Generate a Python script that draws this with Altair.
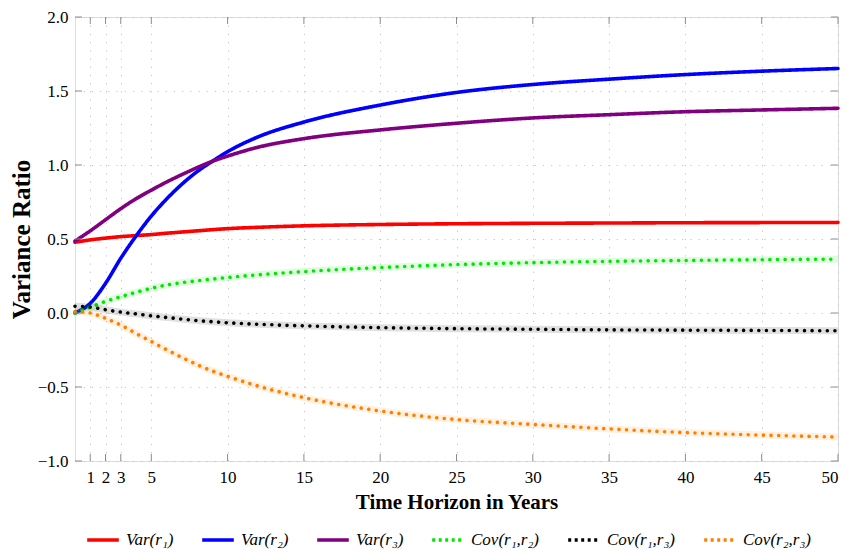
import altair as alt
import pandas as pd

# ---------------- data ----------------
horizon = [0, 1, 2, 3, 4, 5, 6, 7, 8, 9, 10, 12, 15, 20, 25, 30, 35, 40, 45, 50]

var_r1 = [0.478, 0.494, 0.506, 0.516, 0.523, 0.530, 0.539, 0.547, 0.555, 0.563,
          0.570, 0.579, 0.589, 0.598, 0.603, 0.606, 0.608, 0.610, 0.611, 0.612]
var_r2 = [0.000, 0.065, 0.200, 0.370, 0.520, 0.655, 0.770, 0.870, 0.955, 1.025,
          1.090, 1.190, 1.290, 1.405, 1.490, 1.544, 1.580, 1.611, 1.634, 1.652]
var_r3 = [0.486, 0.555, 0.630, 0.705, 0.772, 0.830, 0.885, 0.935, 0.982, 1.025,
          1.060, 1.120, 1.178, 1.237, 1.282, 1.318, 1.340, 1.360, 1.372, 1.383]
cov_r1r2 = [0.000, 0.040, 0.078, 0.110, 0.140, 0.167, 0.189, 0.205, 0.218, 0.229,
            0.240, 0.258, 0.280, 0.307, 0.327, 0.340, 0.349, 0.355, 0.360, 0.364]
cov_r1r3 = [0.046, 0.040, 0.022, 0.006, -0.006, -0.019, -0.030, -0.041, -0.051, -0.059,
            -0.066, -0.076, -0.087, -0.099, -0.106, -0.110, -0.114, -0.116, -0.118, -0.120]
cov_r2r3 = [0.010, 0.000, -0.036, -0.082, -0.138, -0.193, -0.248, -0.300, -0.349, -0.392,
            -0.428, -0.494, -0.572, -0.662, -0.720, -0.753, -0.783, -0.808, -0.825, -0.838]

series_names = ["Var(r₁)", "Var(r₂)", "Var(r₃)", "Cov(r₁,r₂)", "Cov(r₁,r₃)", "Cov(r₂,r₃)"]
series_values = [var_r1, var_r2, var_r3, cov_r1r2, cov_r1r3, cov_r2r3]
series_colors = ["#ff0000", "#0000ff", "#800080", "#00e600", "#000000", "#ff8000"]
cov_names = series_names[3:]

x_ticks = [1, 2, 3, 5, 10, 15, 20, 25, 30, 35, 40, 45, 50]
y_ticks = [-1.0, -0.5, 0.0, 0.5, 1.0, 1.5, 2.0]

rows = []
for name, vals in zip(series_names, series_values):
    for xv, yv in zip(horizon, vals):
        rows.append({"x": xv, "value": yv, "series": name})
df = pd.DataFrame(rows)
df_cov = df[df["series"].isin(cov_names)]

W, H = 763, 444
FONT = "Liberation Serif"

xscale = alt.Scale(domain=[0, 50], nice=False, zero=False)
yscale = alt.Scale(domain=[-1, 2], nice=False, zero=False)
color_scale = alt.Scale(domain=series_names, range=series_colors)
dash_round = alt.Scale(domain=series_names,
                       range=[[1, 0], [1, 0], [1, 0], [0.01, 7.6], [0.01, 7.6], [0.01, 7.6]])
dash_legend = alt.Scale(domain=series_names,
                        range=[[1, 0], [1, 0], [1, 0], [3, 3.5], [3, 3.5], [3, 3.5]])

grid_kw = dict(grid=True, gridDash=[1.2, 7], gridColor="#c4c4c4", gridWidth=1)

x_axis = alt.Axis(values=x_ticks, tickSize=0, domain=False, labelPadding=8,
                  labelFontSize=17, labelFont=FONT, labelColor="#000",
                  title="Time Horizon in Years", titleFont=FONT, titleFontSize=21,
                  titleFontWeight="bold", titlePadding=6, titleColor="#000", **grid_kw)
y_axis = alt.Axis(values=y_ticks, format=".1f", tickSize=0, domain=False, labelPadding=7,
                  labelFontSize=17, labelFont=FONT, labelColor="#000",
                  title="Variance Ratio", titleFont=FONT, titleFontSize=25,
                  titleFontWeight="bold", titlePadding=3, titleColor="#000", **grid_kw)

X = alt.X("x:Q", scale=xscale, axis=x_axis, title="Time Horizon in Years")
Y = alt.Y("value:Q", scale=yscale, axis=y_axis, title="Variance Ratio")

halo = alt.Chart(df_cov).mark_line(interpolate="monotone", strokeWidth=7, opacity=0.12).encode(
    x=X, y=Y,
    color=alt.Color("series:N", scale=color_scale, legend=None),
)

lines = alt.Chart(df).mark_line(interpolate="monotone", strokeWidth=3.6, strokeCap="round").encode(
    x=X, y=Y,
    color=alt.Color("series:N", scale=color_scale, legend=None),
    strokeDash=alt.StrokeDash("series:N", scale=dash_round, legend=None),
)

legend = alt.Legend(title=None, orient="none", legendX=10, legendY=505, direction="horizontal",
                    labelFont=FONT, labelFontStyle="italic", labelFontSize=17, labelColor="#000",
                    symbolType="stroke", symbolSize=1000, symbolStrokeWidth=3.6,
                    labelOffset=5, columnPadding=20)

legend_layer = alt.Chart(df).transform_filter("false").mark_line(strokeWidth=3.6).encode(
    x=X, y=Y,
    color=alt.Color("series:N", scale=color_scale, legend=legend),
    strokeDash=alt.StrokeDash("series:N", scale=dash_legend, legend=legend),
)

xt = pd.DataFrame({"x": x_ticks})
yt = pd.DataFrame({"value": y_ticks})
TL = 7
tick_color = "#8c8c8c"
tick_bottom = alt.Chart(xt).mark_rule(color=tick_color, strokeWidth=1).encode(
    x=X, y=alt.value(H), y2=alt.value(H - TL))
tick_top = alt.Chart(xt).mark_rule(color=tick_color, strokeWidth=1).encode(
    x=X, y=alt.value(0), y2=alt.value(TL))
tick_left = alt.Chart(yt).mark_rule(color=tick_color, strokeWidth=1).encode(
    y=Y, x=alt.value(0), x2=alt.value(TL))
tick_right = alt.Chart(yt).mark_rule(color=tick_color, strokeWidth=1).encode(
    y=Y, x=alt.value(W), x2=alt.value(W - TL))

chart = alt.layer(
    lines, halo, legend_layer, tick_bottom, tick_top, tick_left, tick_right
).resolve_scale(
    color="independent", strokeDash="independent"
).properties(
    width=W, height=H,
    autosize=alt.AutoSizeParams(type="none"),
    padding={"left": 67, "top": 9, "right": 4, "bottom": 91},
).configure_view(
    stroke="#000", strokeWidth=1.2
).configure(font=FONT)

chart.save("out.html", embed_options={"renderer": "svg", "actions": False})
